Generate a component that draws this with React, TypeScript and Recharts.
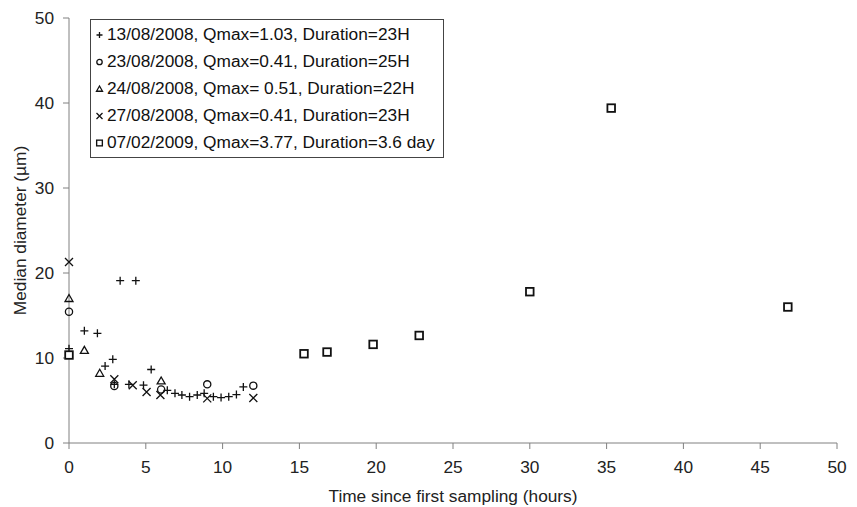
import React from "react";
import { CartesianGrid, Legend, Scatter, ScatterChart, XAxis, YAxis } from "recharts";

// [hours, median diameter µm]
const event13Aug: [number, number][] = [
  [0, 11.1], [1.0, 13.2], [1.85, 12.9], [2.35, 9.05], [2.85, 9.85], [2.95, 6.9],
  [3.33, 19.1], [3.9, 6.9], [4.35, 19.1], [4.85, 6.8], [5.35, 8.65], [6.4, 6.2],
  [6.9, 5.85], [7.35, 5.65], [7.85, 5.45], [8.35, 5.65], [8.8, 5.85], [9.4, 5.45],
  [9.9, 5.35], [10.4, 5.45], [10.9, 5.7], [11.35, 6.6],
];
const event23Aug: [number, number][] = [[0, 15.45], [2.95, 6.7], [6.0, 6.3], [9.0, 6.9], [12.0, 6.75]];
const event24Aug: [number, number][] = [[0, 17.0], [1.0, 10.9], [2.0, 8.2], [6.0, 7.3]];
const event27Aug: [number, number][] = [
  [0, 21.3], [2.95, 7.5], [4.15, 6.8], [5.05, 6.0], [5.95, 5.65], [9.0, 5.25], [12.0, 5.3],
];
const event07Feb: [number, number][] = [
  [0, 10.35], [15.3, 10.5], [16.8, 10.7], [19.8, 11.6], [22.8, 12.65], [30, 17.8], [35.3, 39.4], [46.8, 16.0],
];

const seriesNames = [
  "13/08/2008, Qmax=1.03, Duration=23H",
  "23/08/2008, Qmax=0.41, Duration=25H",
  "24/08/2008, Qmax= 0.51, Duration=22H",
  "27/08/2008, Qmax=0.41, Duration=23H",
  "07/02/2009, Qmax=3.77, Duration=3.6 day",
];
const xTicks = [0, 5, 10, 15, 20, 25, 30, 35, 40, 45, 50];
const yTicks = [0, 10, 20, 30, 40, 50];

const INK = "#111";
const FONT = "Liberation Sans, Arial, sans-serif";
const FS = 17.3;

type Kind = "plus" | "circle" | "triangle" | "cross" | "square";

function Marker({ kind, cx, cy, s = 1 }: { kind: Kind; cx: number; cy: number; s?: number }) {
  const h = 4 * s;
  switch (kind) {
    case "plus":
      return <path d={`M${cx - h},${cy}h${2 * h}M${cx},${cy - h}v${2 * h}`} stroke={INK} strokeWidth={1.3} fill="none" />;
    case "cross":
      return <path d={`M${cx - h},${cy - h}L${cx + h},${cy + h}M${cx - h},${cy + h}L${cx + h},${cy - h}`} stroke={INK} strokeWidth={1.3} fill="none" />;
    case "circle":
      return <circle cx={cx} cy={cy} r={3.6 * s} stroke={INK} strokeWidth={1.3} fill="none" />;
    case "triangle":
      return <path d={`M${cx},${cy - 4 * s}L${cx + 4 * s},${cy + 3 * s}L${cx - 4 * s},${cy + 3 * s}Z`} stroke={INK} strokeWidth={1.3} fill="none" />;
    default:
      return <rect x={cx - 3.8 * s} y={cy - 3.8 * s} width={7.6 * s} height={7.6 * s} stroke={INK} strokeWidth={1.8 * s} fill="#fff" />;
  }
}

const shapeFor = (kind: Kind) => (p: any) => <Marker kind={kind} cx={p.cx} cy={p.cy} />;

const kinds: Kind[] = ["plus", "circle", "triangle", "cross", "square"];
const allSeries = [event13Aug, event23Aug, event24Aug, event27Aug, event07Feb];

function LegendBox() {
  return (
    <div style={{ border: "1px solid #444", background: "#fff", padding: "1px 8px 1px 4px", fontFamily: FONT, fontSize: FS, color: "#111" }}>
      {seriesNames.map((name, i) => (
        <div key={name} style={{ display: "flex", alignItems: "center", height: 27, whiteSpace: "nowrap" }}>
          <svg width={9} height={10} style={{ marginRight: 3 }}>
            <Marker kind={kinds[i]} cx={4.5} cy={5} s={0.75} />
          </svg>
          {name}
        </div>
      ))}
    </div>
  );
}

export default function App() {
  return (
    <div style={{ position: "absolute", left: 0, top: 0, width: 857, height: 507, background: "#fff" }}>
      <ScatterChart width={857} height={507} margin={{ top: 18, right: 20, bottom: 0, left: 0 }}>
        <CartesianGrid stroke="none" />
        <XAxis
          type="number"
          dataKey="x"
          domain={[0, 50]}
          ticks={xTicks}
          height={64}
          stroke="#808080"
          tickMargin={12}
          tick={{ fill: "#222", fontSize: FS, fontFamily: FONT }}
          label={{ value: "Time since first sampling (hours)", position: "insideBottom", offset: 5, style: { fill: "#222", fontSize: FS, fontFamily: FONT } }}
        />
        <YAxis
          type="number"
          dataKey="y"
          domain={[0, 50]}
          ticks={yTicks}
          width={69}
          stroke="#808080"
          tickMargin={9}
          tick={{ fill: "#222", fontSize: FS, fontFamily: FONT }}
          label={{ value: "Median diameter (µm)", angle: -90, position: "insideLeft", dx: 15, style: { textAnchor: "middle", fill: "#222", fontSize: FS, fontFamily: FONT } }}
        />
        <Legend layout="vertical" align="center" verticalAlign="middle" wrapperStyle={{ top: 19, left: 90, width: "auto" }} content={() => <LegendBox />} />
        {allSeries.map((arr, i) => (
          <Scatter
            key={seriesNames[i]}
            name={seriesNames[i]}
            data={arr.map(([x, y]) => ({ x, y }))}
            shape={shapeFor(kinds[i])}
            isAnimationActive={false}
          />
        ))}
      </ScatterChart>
    </div>
  );
}
